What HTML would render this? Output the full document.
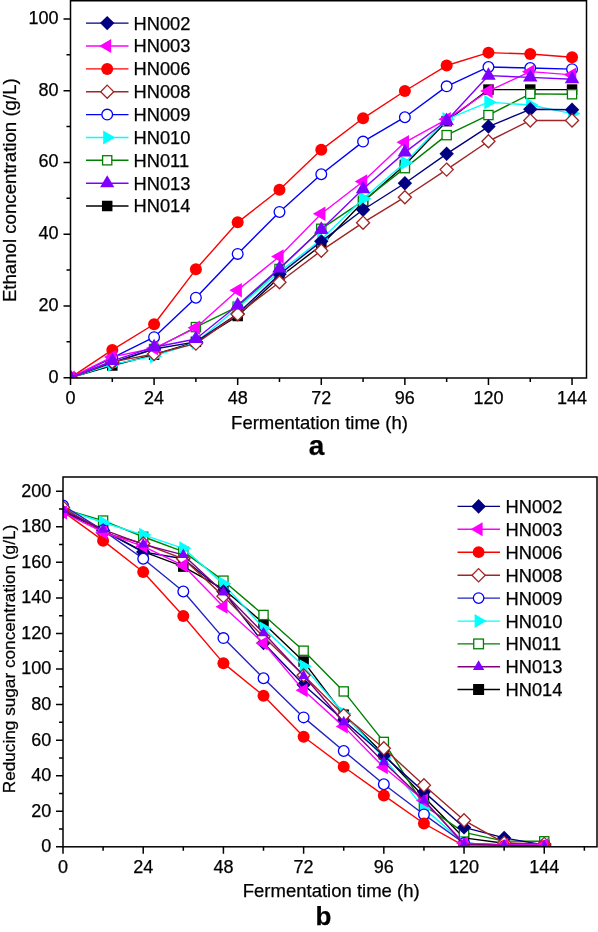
<!DOCTYPE html>
<html><head><meta charset="utf-8"><style>
html,body{margin:0;padding:0;background:#fff;}
body{width:598px;height:932px;overflow:hidden;}
svg{display:block;font-family:"Liberation Sans", sans-serif;will-change:transform;}
text{stroke:#000;stroke-width:0.25px;}
</style></head><body>
<svg width="598" height="932" viewBox="0 0 598 932">
<rect width="598" height="932" fill="#fff"/>
<clipPath id="c1"><rect x="70.5" y="0.75" width="516.0" height="377.25"/></clipPath>
<g clip-path="url(#c1)">
<polyline points="70.50,377.70 112.30,365.50 154.09,354.74 195.89,341.82 237.68,315.99 279.48,277.24 321.28,245.30 363.07,201.89 404.87,164.93 446.66,121.16 488.46,89.58 530.26,89.58 572.05,89.58" fill="none" stroke="#000000" stroke-width="1.4" stroke-linejoin="round"/>
<rect x="65.25" y="372.45" width="10.50" height="10.50" fill="#000000"/>
<rect x="107.05" y="360.25" width="10.50" height="10.50" fill="#000000"/>
<rect x="148.84" y="349.49" width="10.50" height="10.50" fill="#000000"/>
<rect x="190.64" y="336.57" width="10.50" height="10.50" fill="#000000"/>
<rect x="232.43" y="310.74" width="10.50" height="10.50" fill="#000000"/>
<rect x="274.23" y="271.99" width="10.50" height="10.50" fill="#000000"/>
<rect x="316.03" y="240.05" width="10.50" height="10.50" fill="#000000"/>
<rect x="357.82" y="196.64" width="10.50" height="10.50" fill="#000000"/>
<rect x="399.62" y="159.68" width="10.50" height="10.50" fill="#000000"/>
<rect x="441.41" y="115.91" width="10.50" height="10.50" fill="#000000"/>
<rect x="483.21" y="84.33" width="10.50" height="10.50" fill="#000000"/>
<rect x="525.01" y="84.33" width="10.50" height="10.50" fill="#000000"/>
<rect x="566.80" y="84.33" width="10.50" height="10.50" fill="#000000"/>
<polyline points="70.50,377.70 112.30,362.63 154.09,349.00 195.89,327.11 237.68,306.66 279.48,268.98 321.28,228.80 363.07,200.81 404.87,168.16 446.66,135.15 488.46,115.06 530.26,93.89 572.05,94.25" fill="none" stroke="#008000" stroke-width="1.4" stroke-linejoin="round"/>
<rect x="65.90" y="373.10" width="9.20" height="9.20" fill="#FFFFFF" stroke="#008000" stroke-width="1.3"/>
<rect x="107.70" y="358.03" width="9.20" height="9.20" fill="#FFFFFF" stroke="#008000" stroke-width="1.3"/>
<rect x="149.49" y="344.40" width="9.20" height="9.20" fill="#FFFFFF" stroke="#008000" stroke-width="1.3"/>
<rect x="191.29" y="322.51" width="9.20" height="9.20" fill="#FFFFFF" stroke="#008000" stroke-width="1.3"/>
<rect x="233.08" y="302.06" width="9.20" height="9.20" fill="#FFFFFF" stroke="#008000" stroke-width="1.3"/>
<rect x="274.88" y="264.38" width="9.20" height="9.20" fill="#FFFFFF" stroke="#008000" stroke-width="1.3"/>
<rect x="316.68" y="224.20" width="9.20" height="9.20" fill="#FFFFFF" stroke="#008000" stroke-width="1.3"/>
<rect x="358.47" y="196.21" width="9.20" height="9.20" fill="#FFFFFF" stroke="#008000" stroke-width="1.3"/>
<rect x="400.27" y="163.56" width="9.20" height="9.20" fill="#FFFFFF" stroke="#008000" stroke-width="1.3"/>
<rect x="442.06" y="130.55" width="9.20" height="9.20" fill="#FFFFFF" stroke="#008000" stroke-width="1.3"/>
<rect x="483.86" y="110.46" width="9.20" height="9.20" fill="#FFFFFF" stroke="#008000" stroke-width="1.3"/>
<rect x="525.66" y="89.29" width="9.20" height="9.20" fill="#FFFFFF" stroke="#008000" stroke-width="1.3"/>
<rect x="567.45" y="89.65" width="9.20" height="9.20" fill="#FFFFFF" stroke="#008000" stroke-width="1.3"/>
<polyline points="70.50,377.70 112.30,364.42 154.09,356.17 195.89,342.54 237.68,307.73 279.48,271.85 321.28,239.56 363.07,198.66 404.87,162.78 446.66,119.36 488.46,102.14 530.26,105.01 572.05,113.62" fill="none" stroke="#00FFFF" stroke-width="1.4" stroke-linejoin="round"/>
<path d="M78.83 377.70L66.33 370.45L66.33 384.95Z" fill="#00FFFF"/>
<path d="M120.63 364.42L108.13 357.17L108.13 371.67Z" fill="#00FFFF"/>
<path d="M162.43 356.17L149.93 348.92L149.93 363.42Z" fill="#00FFFF"/>
<path d="M204.22 342.54L191.72 335.29L191.72 349.79Z" fill="#00FFFF"/>
<path d="M246.02 307.73L233.52 300.48L233.52 314.98Z" fill="#00FFFF"/>
<path d="M287.81 271.85L275.31 264.60L275.31 279.10Z" fill="#00FFFF"/>
<path d="M329.61 239.56L317.11 232.31L317.11 246.81Z" fill="#00FFFF"/>
<path d="M371.41 198.66L358.91 191.41L358.91 205.91Z" fill="#00FFFF"/>
<path d="M413.20 162.78L400.70 155.53L400.70 170.03Z" fill="#00FFFF"/>
<path d="M455.00 119.36L442.50 112.11L442.50 126.61Z" fill="#00FFFF"/>
<path d="M496.79 102.14L484.29 94.89L484.29 109.39Z" fill="#00FFFF"/>
<path d="M538.59 105.01L526.09 97.76L526.09 112.26Z" fill="#00FFFF"/>
<path d="M580.39 113.62L567.89 106.37L567.89 120.87Z" fill="#00FFFF"/>
<polyline points="70.50,377.70 112.30,362.63 154.09,349.00 195.89,341.82 237.68,313.83 279.48,274.37 321.28,241.36 363.07,209.78 404.87,183.23 446.66,153.81 488.46,126.54 530.26,109.32 572.05,109.68" fill="none" stroke="#000080" stroke-width="1.4" stroke-linejoin="round"/>
<path d="M70.50 370.50L77.70 377.70L70.50 384.90L63.30 377.70Z" fill="#000080"/>
<path d="M112.30 355.43L119.50 362.63L112.30 369.83L105.10 362.63Z" fill="#000080"/>
<path d="M154.09 341.80L161.29 349.00L154.09 356.20L146.89 349.00Z" fill="#000080"/>
<path d="M195.89 334.62L203.09 341.82L195.89 349.02L188.69 341.82Z" fill="#000080"/>
<path d="M237.68 306.63L244.88 313.83L237.68 321.03L230.48 313.83Z" fill="#000080"/>
<path d="M279.48 267.17L286.68 274.37L279.48 281.57L272.28 274.37Z" fill="#000080"/>
<path d="M321.28 234.16L328.48 241.36L321.28 248.56L314.08 241.36Z" fill="#000080"/>
<path d="M363.07 202.58L370.27 209.78L363.07 216.98L355.87 209.78Z" fill="#000080"/>
<path d="M404.87 176.03L412.07 183.23L404.87 190.43L397.67 183.23Z" fill="#000080"/>
<path d="M446.66 146.61L453.86 153.81L446.66 161.01L439.46 153.81Z" fill="#000080"/>
<path d="M488.46 119.34L495.66 126.54L488.46 133.74L481.26 126.54Z" fill="#000080"/>
<path d="M530.26 102.12L537.46 109.32L530.26 116.52L523.06 109.32Z" fill="#000080"/>
<path d="M572.05 102.48L579.25 109.68L572.05 116.88L564.85 109.68Z" fill="#000080"/>
<polyline points="70.50,377.70 112.30,357.97 154.09,337.16 195.89,297.69 237.68,253.91 279.48,211.93 321.28,174.26 363.07,141.61 404.87,117.21 446.66,86.35 488.46,66.98 530.26,68.06 572.05,69.13" fill="none" stroke="#0000FF" stroke-width="1.4" stroke-linejoin="round"/>
<circle cx="70.50" cy="377.70" r="5.35" fill="#FFFFFF" stroke="#0000FF" stroke-width="1.3"/>
<circle cx="112.30" cy="357.97" r="5.35" fill="#FFFFFF" stroke="#0000FF" stroke-width="1.3"/>
<circle cx="154.09" cy="337.16" r="5.35" fill="#FFFFFF" stroke="#0000FF" stroke-width="1.3"/>
<circle cx="195.89" cy="297.69" r="5.35" fill="#FFFFFF" stroke="#0000FF" stroke-width="1.3"/>
<circle cx="237.68" cy="253.91" r="5.35" fill="#FFFFFF" stroke="#0000FF" stroke-width="1.3"/>
<circle cx="279.48" cy="211.93" r="5.35" fill="#FFFFFF" stroke="#0000FF" stroke-width="1.3"/>
<circle cx="321.28" cy="174.26" r="5.35" fill="#FFFFFF" stroke="#0000FF" stroke-width="1.3"/>
<circle cx="363.07" cy="141.61" r="5.35" fill="#FFFFFF" stroke="#0000FF" stroke-width="1.3"/>
<circle cx="404.87" cy="117.21" r="5.35" fill="#FFFFFF" stroke="#0000FF" stroke-width="1.3"/>
<circle cx="446.66" cy="86.35" r="5.35" fill="#FFFFFF" stroke="#0000FF" stroke-width="1.3"/>
<circle cx="488.46" cy="66.98" r="5.35" fill="#FFFFFF" stroke="#0000FF" stroke-width="1.3"/>
<circle cx="530.26" cy="68.06" r="5.35" fill="#FFFFFF" stroke="#0000FF" stroke-width="1.3"/>
<circle cx="572.05" cy="69.13" r="5.35" fill="#FFFFFF" stroke="#0000FF" stroke-width="1.3"/>
<polyline points="70.50,377.70 112.30,361.91 154.09,354.02 195.89,343.61 237.68,314.19 279.48,282.26 321.28,250.68 363.07,222.70 404.87,197.22 446.66,169.60 488.46,141.25 530.26,120.44 572.05,120.44" fill="none" stroke="#A02525" stroke-width="1.4" stroke-linejoin="round"/>
<path d="M70.50 371.15L77.05 377.70L70.50 384.25L63.95 377.70Z" fill="#FFFFFF" stroke="#A02525" stroke-width="1.3"/>
<path d="M112.30 355.36L118.85 361.91L112.30 368.46L105.75 361.91Z" fill="#FFFFFF" stroke="#A02525" stroke-width="1.3"/>
<path d="M154.09 347.47L160.64 354.02L154.09 360.57L147.54 354.02Z" fill="#FFFFFF" stroke="#A02525" stroke-width="1.3"/>
<path d="M195.89 337.06L202.44 343.61L195.89 350.16L189.34 343.61Z" fill="#FFFFFF" stroke="#A02525" stroke-width="1.3"/>
<path d="M237.68 307.64L244.23 314.19L237.68 320.74L231.13 314.19Z" fill="#FFFFFF" stroke="#A02525" stroke-width="1.3"/>
<path d="M279.48 275.71L286.03 282.26L279.48 288.81L272.93 282.26Z" fill="#FFFFFF" stroke="#A02525" stroke-width="1.3"/>
<path d="M321.28 244.13L327.83 250.68L321.28 257.23L314.73 250.68Z" fill="#FFFFFF" stroke="#A02525" stroke-width="1.3"/>
<path d="M363.07 216.15L369.62 222.70L363.07 229.25L356.52 222.70Z" fill="#FFFFFF" stroke="#A02525" stroke-width="1.3"/>
<path d="M404.87 190.67L411.42 197.22L404.87 203.77L398.32 197.22Z" fill="#FFFFFF" stroke="#A02525" stroke-width="1.3"/>
<path d="M446.66 163.05L453.21 169.60L446.66 176.15L440.11 169.60Z" fill="#FFFFFF" stroke="#A02525" stroke-width="1.3"/>
<path d="M488.46 134.70L495.01 141.25L488.46 147.80L481.91 141.25Z" fill="#FFFFFF" stroke="#A02525" stroke-width="1.3"/>
<path d="M530.26 113.89L536.81 120.44L530.26 126.99L523.71 120.44Z" fill="#FFFFFF" stroke="#A02525" stroke-width="1.3"/>
<path d="M572.05 113.89L578.60 120.44L572.05 126.99L565.50 120.44Z" fill="#FFFFFF" stroke="#A02525" stroke-width="1.3"/>
<polyline points="70.50,377.70 112.30,349.89 154.09,324.24 195.89,269.34 237.68,222.34 279.48,189.69 321.28,149.86 363.07,118.29 404.87,91.02 446.66,65.54 488.46,52.63 530.26,54.06 572.05,57.29" fill="none" stroke="#FF0000" stroke-width="1.4" stroke-linejoin="round"/>
<circle cx="70.50" cy="377.70" r="6.00" fill="#FF0000"/>
<circle cx="112.30" cy="349.89" r="6.00" fill="#FF0000"/>
<circle cx="154.09" cy="324.24" r="6.00" fill="#FF0000"/>
<circle cx="195.89" cy="269.34" r="6.00" fill="#FF0000"/>
<circle cx="237.68" cy="222.34" r="6.00" fill="#FF0000"/>
<circle cx="279.48" cy="189.69" r="6.00" fill="#FF0000"/>
<circle cx="321.28" cy="149.86" r="6.00" fill="#FF0000"/>
<circle cx="363.07" cy="118.29" r="6.00" fill="#FF0000"/>
<circle cx="404.87" cy="91.02" r="6.00" fill="#FF0000"/>
<circle cx="446.66" cy="65.54" r="6.00" fill="#FF0000"/>
<circle cx="488.46" cy="52.63" r="6.00" fill="#FF0000"/>
<circle cx="530.26" cy="54.06" r="6.00" fill="#FF0000"/>
<circle cx="572.05" cy="57.29" r="6.00" fill="#FF0000"/>
<polyline points="70.50,377.70 112.30,356.89 154.09,348.28 195.89,327.83 237.68,290.15 279.48,256.43 321.28,213.73 363.07,181.44 404.87,142.33 446.66,119.36 488.46,91.02 530.26,71.64 572.05,74.87" fill="none" stroke="#FF00FF" stroke-width="1.4" stroke-linejoin="round"/>
<path d="M62.17 377.70L74.67 370.45L74.67 384.95Z" fill="#FF00FF"/>
<path d="M103.96 356.89L116.46 349.64L116.46 364.14Z" fill="#FF00FF"/>
<path d="M145.76 348.28L158.26 341.03L158.26 355.53Z" fill="#FF00FF"/>
<path d="M187.55 327.83L200.05 320.58L200.05 335.08Z" fill="#FF00FF"/>
<path d="M229.35 290.15L241.85 282.90L241.85 297.40Z" fill="#FF00FF"/>
<path d="M271.15 256.43L283.65 249.18L283.65 263.68Z" fill="#FF00FF"/>
<path d="M312.94 213.73L325.44 206.48L325.44 220.98Z" fill="#FF00FF"/>
<path d="M354.74 181.44L367.24 174.19L367.24 188.69Z" fill="#FF00FF"/>
<path d="M396.53 142.33L409.03 135.08L409.03 149.58Z" fill="#FF00FF"/>
<path d="M438.33 119.36L450.83 112.11L450.83 126.61Z" fill="#FF00FF"/>
<path d="M480.13 91.02L492.63 83.77L492.63 98.27Z" fill="#FF00FF"/>
<path d="M521.92 71.64L534.42 64.39L534.42 78.89Z" fill="#FF00FF"/>
<path d="M563.72 74.87L576.22 67.62L576.22 82.12Z" fill="#FF00FF"/>
<polyline points="70.50,377.70 112.30,360.84 154.09,347.20 195.89,338.95 237.68,305.22 279.48,268.27 321.28,229.52 363.07,188.97 404.87,152.37 446.66,120.80 488.46,75.59 530.26,77.38 572.05,79.18" fill="none" stroke="#8000FF" stroke-width="1.4" stroke-linejoin="round"/>
<path d="M70.50 369.37L77.75 381.87L63.25 381.87Z" fill="#8000FF"/>
<path d="M112.30 352.50L119.55 365.00L105.05 365.00Z" fill="#8000FF"/>
<path d="M154.09 338.87L161.34 351.37L146.84 351.37Z" fill="#8000FF"/>
<path d="M195.89 330.62L203.14 343.12L188.64 343.12Z" fill="#8000FF"/>
<path d="M237.68 296.89L244.93 309.39L230.43 309.39Z" fill="#8000FF"/>
<path d="M279.48 259.93L286.73 272.43L272.23 272.43Z" fill="#8000FF"/>
<path d="M321.28 221.18L328.53 233.68L314.03 233.68Z" fill="#8000FF"/>
<path d="M363.07 180.64L370.32 193.14L355.82 193.14Z" fill="#8000FF"/>
<path d="M404.87 144.04L412.12 156.54L397.62 156.54Z" fill="#8000FF"/>
<path d="M446.66 112.47L453.91 124.97L439.41 124.97Z" fill="#8000FF"/>
<path d="M488.46 67.26L495.71 79.76L481.21 79.76Z" fill="#8000FF"/>
<path d="M530.26 69.05L537.51 81.55L523.01 81.55Z" fill="#8000FF"/>
<path d="M572.05 70.85L579.30 83.35L564.80 83.35Z" fill="#8000FF"/>
</g>
<rect x="70.5" y="0.75" width="516.0" height="377.25" fill="none" stroke="#000" stroke-width="1.5"/>
<path d="M63.5 377.70H70.5M63.5 305.94H70.5M63.5 234.18H70.5M63.5 162.42H70.5M63.5 90.66H70.5M63.5 18.90H70.5M66.5 341.82H70.5M66.5 270.06H70.5M66.5 198.30H70.5M66.5 126.54H70.5M66.5 54.78H70.5M70.50 378.0V385.0M154.09 378.0V385.0M237.68 378.0V385.0M321.28 378.0V385.0M404.87 378.0V385.0M488.46 378.0V385.0M572.05 378.0V385.0M112.30 378.0V382.0M195.89 378.0V382.0M279.48 378.0V382.0M363.07 378.0V382.0M446.66 378.0V382.0M530.26 378.0V382.0" stroke="#000" stroke-width="1.5" fill="none"/>
<text x="58.6" y="382.70" text-anchor="end" font-size="18">0</text>
<text x="58.6" y="310.94" text-anchor="end" font-size="18">20</text>
<text x="58.6" y="239.18" text-anchor="end" font-size="18">40</text>
<text x="58.6" y="167.42" text-anchor="end" font-size="18">60</text>
<text x="58.6" y="95.66" text-anchor="end" font-size="18">80</text>
<text x="58.6" y="23.90" text-anchor="end" font-size="18">100</text>
<text x="70.50" y="404.1" text-anchor="middle" font-size="18">0</text>
<text x="154.09" y="404.1" text-anchor="middle" font-size="18">24</text>
<text x="237.68" y="404.1" text-anchor="middle" font-size="18">48</text>
<text x="321.28" y="404.1" text-anchor="middle" font-size="18">72</text>
<text x="404.87" y="404.1" text-anchor="middle" font-size="18">96</text>
<text x="488.46" y="404.1" text-anchor="middle" font-size="18">120</text>
<text x="572.05" y="404.1" text-anchor="middle" font-size="18">144</text>
<text transform="translate(15.9 190.2) rotate(-90)" text-anchor="middle" font-size="18.65">Ethanol concentration (g/L)</text>
<text x="319.5" y="428.8" text-anchor="middle" font-size="18.5">Fermentation time (h)</text>
<text x="316.5" y="455" text-anchor="middle" font-size="28" font-weight="bold">a</text>
<path d="M86 23.1H128.5" stroke="#000080" stroke-width="1.4"/>
<path d="M107.20 15.90L114.40 23.10L107.20 30.30L100.00 23.10Z" fill="#000080"/>
<text x="133.5" y="29.50" font-size="18.3">HN002</text>
<path d="M86 46.0H128.5" stroke="#FF00FF" stroke-width="1.4"/>
<path d="M99.20 46.00L111.20 38.90L111.20 53.10Z" fill="#FF00FF"/>
<text x="133.5" y="52.40" font-size="18.3">HN003</text>
<path d="M86 68.9H128.5" stroke="#FF0000" stroke-width="1.4"/>
<circle cx="107.20" cy="68.90" r="6.00" fill="#FF0000"/>
<text x="133.5" y="75.30" font-size="18.3">HN006</text>
<path d="M86 91.7H128.5" stroke="#A02525" stroke-width="1.4"/>
<path d="M107.20 85.15L113.75 91.70L107.20 98.25L100.65 91.70Z" fill="#FFFFFF" stroke="#A02525" stroke-width="1.3"/>
<text x="133.5" y="98.10" font-size="18.3">HN008</text>
<path d="M86 114.6H128.5" stroke="#0000FF" stroke-width="1.4"/>
<circle cx="107.20" cy="114.60" r="5.35" fill="#FFFFFF" stroke="#0000FF" stroke-width="1.3"/>
<text x="133.5" y="121.00" font-size="18.3">HN009</text>
<path d="M86 137.5H128.5" stroke="#00FFFF" stroke-width="1.4"/>
<path d="M115.20 137.50L103.20 130.40L103.20 144.60Z" fill="#00FFFF"/>
<text x="133.5" y="143.90" font-size="18.3">HN010</text>
<path d="M86 160.3H128.5" stroke="#008000" stroke-width="1.4"/>
<rect x="102.60" y="155.70" width="9.20" height="9.20" fill="#FFFFFF" stroke="#008000" stroke-width="1.3"/>
<text x="133.5" y="166.70" font-size="18.3">HN011</text>
<path d="M86 183.2H128.5" stroke="#8000FF" stroke-width="1.4"/>
<path d="M107.20 175.20L114.30 187.20L100.10 187.20Z" fill="#8000FF"/>
<text x="133.5" y="189.60" font-size="18.3">HN013</text>
<path d="M86 206.0H128.5" stroke="#000000" stroke-width="1.4"/>
<rect x="101.95" y="200.75" width="10.50" height="10.50" fill="#000000"/>
<text x="133.5" y="212.40" font-size="18.3">HN014</text>
<clipPath id="c2"><rect x="63" y="477" width="534" height="369.79999999999995"/></clipPath>
<g clip-path="url(#c2)">
<polyline points="63.00,510.80 103.10,530.35 143.21,551.69 183.31,566.62 223.42,589.02 263.52,623.15 303.62,661.55 343.73,714.71 383.83,754.35 423.94,797.02 464.04,837.91 504.14,843.24 544.25,845.02" fill="none" stroke="#000000" stroke-width="1.4" stroke-linejoin="round"/>
<rect x="57.75" y="505.55" width="10.50" height="10.50" fill="#000000"/>
<rect x="97.85" y="525.10" width="10.50" height="10.50" fill="#000000"/>
<rect x="137.96" y="546.44" width="10.50" height="10.50" fill="#000000"/>
<rect x="178.06" y="561.37" width="10.50" height="10.50" fill="#000000"/>
<rect x="218.17" y="583.77" width="10.50" height="10.50" fill="#000000"/>
<rect x="258.27" y="617.90" width="10.50" height="10.50" fill="#000000"/>
<rect x="298.37" y="656.30" width="10.50" height="10.50" fill="#000000"/>
<rect x="338.48" y="709.46" width="10.50" height="10.50" fill="#000000"/>
<rect x="378.58" y="749.10" width="10.50" height="10.50" fill="#000000"/>
<rect x="418.69" y="791.77" width="10.50" height="10.50" fill="#000000"/>
<rect x="458.79" y="832.66" width="10.50" height="10.50" fill="#000000"/>
<rect x="498.89" y="837.99" width="10.50" height="10.50" fill="#000000"/>
<rect x="539.00" y="839.77" width="10.50" height="10.50" fill="#000000"/>
<polyline points="63.00,509.02 103.10,520.57 143.21,536.75 183.31,551.69 223.42,580.66 263.52,614.97 303.62,650.71 343.73,691.42 383.83,741.91 423.94,805.38 464.04,832.40 504.14,841.11 544.25,841.29" fill="none" stroke="#008000" stroke-width="1.4" stroke-linejoin="round"/>
<rect x="58.40" y="504.42" width="9.20" height="9.20" fill="#FFFFFF" stroke="#008000" stroke-width="1.3"/>
<rect x="98.50" y="515.97" width="9.20" height="9.20" fill="#FFFFFF" stroke="#008000" stroke-width="1.3"/>
<rect x="138.61" y="532.15" width="9.20" height="9.20" fill="#FFFFFF" stroke="#008000" stroke-width="1.3"/>
<rect x="178.71" y="547.09" width="9.20" height="9.20" fill="#FFFFFF" stroke="#008000" stroke-width="1.3"/>
<rect x="218.82" y="576.06" width="9.20" height="9.20" fill="#FFFFFF" stroke="#008000" stroke-width="1.3"/>
<rect x="258.92" y="610.37" width="9.20" height="9.20" fill="#FFFFFF" stroke="#008000" stroke-width="1.3"/>
<rect x="299.02" y="646.11" width="9.20" height="9.20" fill="#FFFFFF" stroke="#008000" stroke-width="1.3"/>
<rect x="339.13" y="686.82" width="9.20" height="9.20" fill="#FFFFFF" stroke="#008000" stroke-width="1.3"/>
<rect x="379.23" y="737.31" width="9.20" height="9.20" fill="#FFFFFF" stroke="#008000" stroke-width="1.3"/>
<rect x="419.34" y="800.78" width="9.20" height="9.20" fill="#FFFFFF" stroke="#008000" stroke-width="1.3"/>
<rect x="459.44" y="827.80" width="9.20" height="9.20" fill="#FFFFFF" stroke="#008000" stroke-width="1.3"/>
<rect x="499.54" y="836.51" width="9.20" height="9.20" fill="#FFFFFF" stroke="#008000" stroke-width="1.3"/>
<rect x="539.65" y="836.69" width="9.20" height="9.20" fill="#FFFFFF" stroke="#008000" stroke-width="1.3"/>
<polyline points="63.00,509.02 103.10,522.53 143.21,534.80 183.31,548.31 223.42,583.86 263.52,628.13 303.62,666.35 343.73,713.46 383.83,757.91 423.94,808.40 464.04,843.24 504.14,845.02 544.25,845.02" fill="none" stroke="#00FFFF" stroke-width="1.4" stroke-linejoin="round"/>
<path d="M71.00 509.02L59.00 502.02L59.00 516.02Z" fill="#00FFFF"/>
<path d="M111.10 522.53L99.10 515.53L99.10 529.53Z" fill="#00FFFF"/>
<path d="M151.21 534.80L139.21 527.80L139.21 541.80Z" fill="#00FFFF"/>
<path d="M191.31 548.31L179.31 541.31L179.31 555.31Z" fill="#00FFFF"/>
<path d="M231.42 583.86L219.42 576.86L219.42 590.86Z" fill="#00FFFF"/>
<path d="M271.52 628.13L259.52 621.13L259.52 635.13Z" fill="#00FFFF"/>
<path d="M311.62 666.35L299.62 659.35L299.62 673.35Z" fill="#00FFFF"/>
<path d="M351.73 713.46L339.73 706.46L339.73 720.46Z" fill="#00FFFF"/>
<path d="M391.83 757.91L379.83 750.91L379.83 764.91Z" fill="#00FFFF"/>
<path d="M431.94 808.40L419.94 801.40L419.94 815.40Z" fill="#00FFFF"/>
<path d="M472.04 843.24L460.04 836.24L460.04 850.24Z" fill="#00FFFF"/>
<path d="M512.14 845.02L500.14 838.02L500.14 852.02Z" fill="#00FFFF"/>
<path d="M552.25 845.02L540.25 838.02L540.25 852.02Z" fill="#00FFFF"/>
<polyline points="63.00,511.68 103.10,530.35 143.21,552.04 183.31,558.80 223.42,591.51 263.52,643.06 303.62,684.84 343.73,720.58 383.83,755.78 423.94,791.87 464.04,827.42 504.14,837.91 544.25,845.02" fill="none" stroke="#000080" stroke-width="1.4" stroke-linejoin="round"/>
<path d="M63.00 504.48L70.20 511.68L63.00 518.88L55.80 511.68Z" fill="#000080"/>
<path d="M103.10 523.15L110.30 530.35L103.10 537.55L95.90 530.35Z" fill="#000080"/>
<path d="M143.21 544.84L150.41 552.04L143.21 559.24L136.01 552.04Z" fill="#000080"/>
<path d="M183.31 551.60L190.51 558.80L183.31 566.00L176.11 558.80Z" fill="#000080"/>
<path d="M223.42 584.31L230.62 591.51L223.42 598.71L216.22 591.51Z" fill="#000080"/>
<path d="M263.52 635.86L270.72 643.06L263.52 650.26L256.32 643.06Z" fill="#000080"/>
<path d="M303.62 677.64L310.82 684.84L303.62 692.04L296.42 684.84Z" fill="#000080"/>
<path d="M343.73 713.38L350.93 720.58L343.73 727.78L336.53 720.58Z" fill="#000080"/>
<path d="M383.83 748.58L391.03 755.78L383.83 762.98L376.63 755.78Z" fill="#000080"/>
<path d="M423.94 784.67L431.14 791.87L423.94 799.07L416.74 791.87Z" fill="#000080"/>
<path d="M464.04 820.22L471.24 827.42L464.04 834.62L456.84 827.42Z" fill="#000080"/>
<path d="M504.14 830.71L511.34 837.91L504.14 845.11L496.94 837.91Z" fill="#000080"/>
<path d="M544.25 837.82L551.45 845.02L544.25 852.22L537.05 845.02Z" fill="#000080"/>
<polyline points="63.00,505.46 103.10,530.35 143.21,558.80 183.31,591.51 223.42,638.09 263.52,678.26 303.62,717.38 343.73,750.98 383.83,784.22 423.94,814.44 464.04,843.24 504.14,845.02 544.25,845.02" fill="none" stroke="#2323C0" stroke-width="1.4" stroke-linejoin="round"/>
<circle cx="63.00" cy="505.46" r="5.35" fill="#FFFFFF" stroke="#0000FF" stroke-width="1.3"/>
<circle cx="103.10" cy="530.35" r="5.35" fill="#FFFFFF" stroke="#0000FF" stroke-width="1.3"/>
<circle cx="143.21" cy="558.80" r="5.35" fill="#FFFFFF" stroke="#0000FF" stroke-width="1.3"/>
<circle cx="183.31" cy="591.51" r="5.35" fill="#FFFFFF" stroke="#0000FF" stroke-width="1.3"/>
<circle cx="223.42" cy="638.09" r="5.35" fill="#FFFFFF" stroke="#0000FF" stroke-width="1.3"/>
<circle cx="263.52" cy="678.26" r="5.35" fill="#FFFFFF" stroke="#0000FF" stroke-width="1.3"/>
<circle cx="303.62" cy="717.38" r="5.35" fill="#FFFFFF" stroke="#0000FF" stroke-width="1.3"/>
<circle cx="343.73" cy="750.98" r="5.35" fill="#FFFFFF" stroke="#0000FF" stroke-width="1.3"/>
<circle cx="383.83" cy="784.22" r="5.35" fill="#FFFFFF" stroke="#0000FF" stroke-width="1.3"/>
<circle cx="423.94" cy="814.44" r="5.35" fill="#FFFFFF" stroke="#0000FF" stroke-width="1.3"/>
<circle cx="464.04" cy="843.24" r="5.35" fill="#FFFFFF" stroke="#0000FF" stroke-width="1.3"/>
<circle cx="504.14" cy="845.02" r="5.35" fill="#FFFFFF" stroke="#0000FF" stroke-width="1.3"/>
<circle cx="544.25" cy="845.02" r="5.35" fill="#FFFFFF" stroke="#0000FF" stroke-width="1.3"/>
<polyline points="63.00,507.24 103.10,532.66 143.21,543.51 183.31,558.80 223.42,596.13 263.52,636.84 303.62,675.24 343.73,715.24 383.83,748.31 423.94,785.29 464.04,820.31 504.14,842.89 544.25,843.96" fill="none" stroke="#A02525" stroke-width="1.4" stroke-linejoin="round"/>
<path d="M63.00 500.69L69.55 507.24L63.00 513.79L56.45 507.24Z" fill="#FFFFFF" stroke="#A02525" stroke-width="1.3"/>
<path d="M103.10 526.11L109.65 532.66L103.10 539.21L96.55 532.66Z" fill="#FFFFFF" stroke="#A02525" stroke-width="1.3"/>
<path d="M143.21 536.96L149.76 543.51L143.21 550.06L136.66 543.51Z" fill="#FFFFFF" stroke="#A02525" stroke-width="1.3"/>
<path d="M183.31 552.25L189.86 558.80L183.31 565.35L176.76 558.80Z" fill="#FFFFFF" stroke="#A02525" stroke-width="1.3"/>
<path d="M223.42 589.58L229.97 596.13L223.42 602.68L216.87 596.13Z" fill="#FFFFFF" stroke="#A02525" stroke-width="1.3"/>
<path d="M263.52 630.29L270.07 636.84L263.52 643.39L256.97 636.84Z" fill="#FFFFFF" stroke="#A02525" stroke-width="1.3"/>
<path d="M303.62 668.69L310.17 675.24L303.62 681.79L297.07 675.24Z" fill="#FFFFFF" stroke="#A02525" stroke-width="1.3"/>
<path d="M343.73 708.69L350.28 715.24L343.73 721.79L337.18 715.24Z" fill="#FFFFFF" stroke="#A02525" stroke-width="1.3"/>
<path d="M383.83 741.76L390.38 748.31L383.83 754.86L377.28 748.31Z" fill="#FFFFFF" stroke="#A02525" stroke-width="1.3"/>
<path d="M423.94 778.74L430.49 785.29L423.94 791.84L417.39 785.29Z" fill="#FFFFFF" stroke="#A02525" stroke-width="1.3"/>
<path d="M464.04 813.76L470.59 820.31L464.04 826.86L457.49 820.31Z" fill="#FFFFFF" stroke="#A02525" stroke-width="1.3"/>
<path d="M504.14 836.34L510.69 842.89L504.14 849.44L497.59 842.89Z" fill="#FFFFFF" stroke="#A02525" stroke-width="1.3"/>
<path d="M544.25 837.41L550.80 843.96L544.25 850.51L537.70 843.96Z" fill="#FFFFFF" stroke="#A02525" stroke-width="1.3"/>
<polyline points="63.00,511.68 103.10,540.66 143.21,571.95 183.31,616.04 223.42,663.15 263.52,695.69 303.62,736.75 343.73,766.80 383.83,795.42 423.94,823.51 464.04,845.91 504.14,845.91 544.25,845.91" fill="none" stroke="#FF0000" stroke-width="1.4" stroke-linejoin="round"/>
<circle cx="63.00" cy="511.68" r="6.00" fill="#FF0000"/>
<circle cx="103.10" cy="540.66" r="6.00" fill="#FF0000"/>
<circle cx="143.21" cy="571.95" r="6.00" fill="#FF0000"/>
<circle cx="183.31" cy="616.04" r="6.00" fill="#FF0000"/>
<circle cx="223.42" cy="663.15" r="6.00" fill="#FF0000"/>
<circle cx="263.52" cy="695.69" r="6.00" fill="#FF0000"/>
<circle cx="303.62" cy="736.75" r="6.00" fill="#FF0000"/>
<circle cx="343.73" cy="766.80" r="6.00" fill="#FF0000"/>
<circle cx="383.83" cy="795.42" r="6.00" fill="#FF0000"/>
<circle cx="423.94" cy="823.51" r="6.00" fill="#FF0000"/>
<circle cx="464.04" cy="845.91" r="6.00" fill="#FF0000"/>
<circle cx="504.14" cy="845.91" r="6.00" fill="#FF0000"/>
<circle cx="544.25" cy="845.91" r="6.00" fill="#FF0000"/>
<polyline points="63.00,512.57 103.10,532.13 143.21,546.35 183.31,565.55 223.42,606.80 263.52,643.24 303.62,690.35 343.73,726.62 383.83,767.33 423.94,800.58 464.04,843.24 504.14,845.02 544.25,845.02" fill="none" stroke="#FF00FF" stroke-width="1.4" stroke-linejoin="round"/>
<path d="M55.00 512.57L67.00 505.57L67.00 519.57Z" fill="#FF00FF"/>
<path d="M95.10 532.13L107.10 525.13L107.10 539.13Z" fill="#FF00FF"/>
<path d="M135.21 546.35L147.21 539.35L147.21 553.35Z" fill="#FF00FF"/>
<path d="M175.31 565.55L187.31 558.55L187.31 572.55Z" fill="#FF00FF"/>
<path d="M215.42 606.80L227.42 599.80L227.42 613.80Z" fill="#FF00FF"/>
<path d="M255.52 643.24L267.52 636.24L267.52 650.24Z" fill="#FF00FF"/>
<path d="M295.62 690.35L307.62 683.35L307.62 697.35Z" fill="#FF00FF"/>
<path d="M335.73 726.62L347.73 719.62L347.73 733.62Z" fill="#FF00FF"/>
<path d="M375.83 767.33L387.83 760.33L387.83 774.33Z" fill="#FF00FF"/>
<path d="M415.94 800.58L427.94 793.58L427.94 807.58Z" fill="#FF00FF"/>
<path d="M456.04 843.24L468.04 836.24L468.04 850.24Z" fill="#FF00FF"/>
<path d="M496.14 845.02L508.14 838.02L508.14 852.02Z" fill="#FF00FF"/>
<path d="M536.25 845.02L548.25 838.02L548.25 852.02Z" fill="#FF00FF"/>
<polyline points="63.00,509.91 103.10,529.64 143.21,544.40 183.31,554.89 223.42,592.22 263.52,633.11 303.62,675.78 343.73,722.00 383.83,762.18 423.94,800.40 464.04,844.13 504.14,845.38 544.25,845.91" fill="none" stroke="#800080" stroke-width="1.4" stroke-linejoin="round"/>
<path d="M63.00 503.57L68.25 513.07L57.75 513.07Z" fill="#8000FF"/>
<path d="M103.10 523.31L108.35 532.81L97.85 532.81Z" fill="#8000FF"/>
<path d="M143.21 538.06L148.46 547.56L137.96 547.56Z" fill="#8000FF"/>
<path d="M183.31 548.55L188.56 558.05L178.06 558.05Z" fill="#8000FF"/>
<path d="M223.42 585.89L228.67 595.39L218.17 595.39Z" fill="#8000FF"/>
<path d="M263.52 626.78L268.77 636.28L258.27 636.28Z" fill="#8000FF"/>
<path d="M303.62 669.44L308.87 678.94L298.37 678.94Z" fill="#8000FF"/>
<path d="M343.73 715.67L348.98 725.17L338.48 725.17Z" fill="#8000FF"/>
<path d="M383.83 755.84L389.08 765.34L378.58 765.34Z" fill="#8000FF"/>
<path d="M423.94 794.07L429.19 803.57L418.69 803.57Z" fill="#8000FF"/>
<path d="M464.04 837.80L469.29 847.30L458.79 847.30Z" fill="#8000FF"/>
<path d="M504.14 839.04L509.39 848.54L498.89 848.54Z" fill="#8000FF"/>
<path d="M544.25 839.58L549.50 849.08L539.00 849.08Z" fill="#8000FF"/>
</g>
<rect x="63" y="477" width="534" height="369.79999999999995" fill="none" stroke="#000" stroke-width="1.5"/>
<path d="M56 846.80H63M56 811.24H63M56 775.69H63M56 740.13H63M56 704.58H63M56 669.02H63M56 633.46H63M56 597.91H63M56 562.35H63M56 526.80H63M56 491.24H63M59 829.02H63M59 793.47H63M59 757.91H63M59 722.35H63M59 686.80H63M59 651.24H63M59 615.69H63M59 580.13H63M59 544.57H63M59 509.02H63M63.00 846.8V853.8M143.21 846.8V853.8M223.42 846.8V853.8M303.62 846.8V853.8M383.83 846.8V853.8M464.04 846.8V853.8M544.25 846.8V853.8M103.10 846.8V850.8M183.31 846.8V850.8M263.52 846.8V850.8M343.73 846.8V850.8M423.94 846.8V850.8M504.14 846.8V850.8M584.35 846.8V850.8" stroke="#000" stroke-width="1.5" fill="none"/>
<text x="51.3" y="852.20" text-anchor="end" font-size="18">0</text>
<text x="51.3" y="816.64" text-anchor="end" font-size="18">20</text>
<text x="51.3" y="781.09" text-anchor="end" font-size="18">40</text>
<text x="51.3" y="745.53" text-anchor="end" font-size="18">60</text>
<text x="51.3" y="709.98" text-anchor="end" font-size="18">80</text>
<text x="51.3" y="674.42" text-anchor="end" font-size="18">100</text>
<text x="51.3" y="638.86" text-anchor="end" font-size="18">120</text>
<text x="51.3" y="603.31" text-anchor="end" font-size="18">140</text>
<text x="51.3" y="567.75" text-anchor="end" font-size="18">160</text>
<text x="51.3" y="532.20" text-anchor="end" font-size="18">180</text>
<text x="51.3" y="496.64" text-anchor="end" font-size="18">200</text>
<text x="63.00" y="873" text-anchor="middle" font-size="18">0</text>
<text x="143.21" y="873" text-anchor="middle" font-size="18">24</text>
<text x="223.42" y="873" text-anchor="middle" font-size="18">48</text>
<text x="303.62" y="873" text-anchor="middle" font-size="18">72</text>
<text x="383.83" y="873" text-anchor="middle" font-size="18">96</text>
<text x="464.04" y="873" text-anchor="middle" font-size="18">120</text>
<text x="544.25" y="873" text-anchor="middle" font-size="18">144</text>
<text transform="translate(15 659) rotate(-90)" text-anchor="middle" font-size="17.2">Reducing sugar concentration (g/L)</text>
<text x="331.2" y="897.2" text-anchor="middle" font-size="18.5">Fermentation time (h)</text>
<text x="323.5" y="925" text-anchor="middle" font-size="26" font-weight="bold">b</text>
<path d="M457.5 506.4H500" stroke="#000080" stroke-width="1.4"/>
<path d="M478.60 499.10L485.90 506.40L478.60 513.70L471.30 506.40Z" fill="#000080"/>
<text x="505.5" y="512.80" font-size="18.3">HN002</text>
<path d="M457.5 529.3H500" stroke="#FF00FF" stroke-width="1.4"/>
<path d="M470.60 529.30L482.60 522.30L482.60 536.30Z" fill="#FF00FF"/>
<text x="505.5" y="535.70" font-size="18.3">HN003</text>
<path d="M457.5 552.2H500" stroke="#FF0000" stroke-width="1.4"/>
<circle cx="478.60" cy="552.20" r="5.90" fill="#FF0000"/>
<text x="505.5" y="558.60" font-size="18.3">HN006</text>
<path d="M457.5 575.3H500" stroke="#A02525" stroke-width="1.4"/>
<path d="M478.60 568.65L485.25 575.30L478.60 581.95L471.95 575.30Z" fill="#FFFFFF" stroke="#A02525" stroke-width="1.3"/>
<text x="505.5" y="581.70" font-size="18.3">HN008</text>
<path d="M457.5 598.1H500" stroke="#2323C0" stroke-width="1.4"/>
<circle cx="478.60" cy="598.10" r="5.25" fill="#FFFFFF" stroke="#0000FF" stroke-width="1.3"/>
<text x="505.5" y="604.50" font-size="18.3">HN009</text>
<path d="M457.5 621.1H500" stroke="#00FFFF" stroke-width="1.4"/>
<path d="M486.60 621.10L474.60 614.10L474.60 628.10Z" fill="#00FFFF"/>
<text x="505.5" y="627.50" font-size="18.3">HN010</text>
<path d="M457.5 643.9H500" stroke="#008000" stroke-width="1.4"/>
<rect x="473.75" y="639.05" width="9.70" height="9.70" fill="#FFFFFF" stroke="#008000" stroke-width="1.3"/>
<text x="505.5" y="650.30" font-size="18.3">HN011</text>
<path d="M457.5 666.7H500" stroke="#800080" stroke-width="1.4"/>
<path d="M478.60 660.30L484.25 669.90L472.95 669.90Z" fill="#8000FF"/>
<text x="505.5" y="673.10" font-size="18.3">HN013</text>
<path d="M457.5 689.5H500" stroke="#000000" stroke-width="1.4"/>
<rect x="473.10" y="684.00" width="11.00" height="11.00" fill="#000000"/>
<text x="505.5" y="695.90" font-size="18.3">HN014</text>
</svg></body></html>
